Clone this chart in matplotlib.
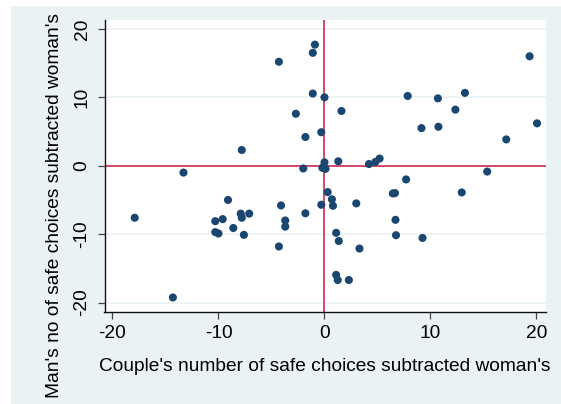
import matplotlib
matplotlib.use("Agg")
import matplotlib.pyplot as plt
from matplotlib.patches import Rectangle

plt.rcParams["font.family"] = ["Liberation Sans", "DejaVu Sans"]
plt.rcParams["axes.unicode_minus"] = False

# Couple's minus woman's (x) vs man's minus woman's (y), number of safe choices
x_vals = [-17.9, -14.3, -13.3, -10.3, -9.6, -10.3, -10.0, -9.1, -8.6, -7.8,
          -7.9, -7.8, -7.1, -7.6, -4.3, -4.1, -3.7, -3.7, -4.3, -2.7,
          -1.8, -2.0, -1.8, -0.9, -1.1, -1.1, 0.0, -0.3, 0.0, -0.2,
          0.1, -0.3, 0.3, 0.7, 0.8, 1.3, 1.6, 1.1, 1.35, 1.1,
          1.25, 2.3, 3.0, 3.3, 4.2, 4.8, 5.2, 6.45, 6.65, 6.7,
          6.75, 7.7, 7.85, 9.15, 9.25, 10.7, 10.75, 12.35, 12.95, 13.25,
          15.35, 17.15, 19.35, 20.05]
y_vals = [-7.6, -19.25, -1.0, -8.1, -7.8, -9.7, -9.9, -5.0, -9.1, 2.3,
          -7.0, -7.6, -7.0, -10.1, 15.2, -5.8, -8.0, -8.9, -11.8, 7.6,
          4.2, -0.4, -6.95, 17.7, 16.5, 10.55, 10.0, 4.9, 0.5, -0.3,
          -0.45, -5.7, -3.85, -4.9, -5.85, 0.65, 8.0, -9.8, -11.0, -15.95,
          -16.7, -16.7, -5.5, -12.1, 0.25, 0.55, 1.05, -4.05, -4.0, -7.9,
          -10.15, -2.0, 10.2, 5.5, -10.55, 9.85, 5.7, 8.2, -3.9, 10.65,
          -0.85, 3.85, 16.0, 6.2]
x_ticks = [-20, -10, 0, 10, 20]
y_ticks = [-20, -10, 0, 10, 20]

bg = "#EAF2F3"
navy = "#1A476F"
red = "#D6466B"
W, H = 561, 404

fig = plt.figure(figsize=(W / 100, H / 100), dpi=100)
fig.patch.set_facecolor("white")
fig.patches.append(Rectangle((10.7 / W, 0), 1, 1 - 5.5 / H,
                             transform=fig.transFigure, facecolor=bg,
                             edgecolor="none", zorder=-10))

ax = fig.add_axes([104.5 / W, 1 - 311.5 / H, 441 / W, 291.5 / H])
ax.set_facecolor("white")
ax.set_xlim(-20.75, 20.85)
ax.set_ylim(-21.3, 21.3)

for yt in y_ticks:
    ax.axhline(yt, color=bg, linewidth=1.2, zorder=1)
ax.axhline(0, color=red, linewidth=1.4, zorder=2)
ax.axvline(0, color=red, linewidth=1.4, zorder=2)

ax.scatter(x_vals, y_vals, s=34, color=navy, edgecolors="none", zorder=3)

ax.set_xticks(x_ticks)
ax.set_yticks(y_ticks)
ax.set_yticklabels([str(t) for t in y_ticks], rotation=90, va="center")
ax.tick_params(direction="out", length=5, width=0.9, color="#444444",
               labelsize=13.8, labelcolor="black")
ax.tick_params(axis="x", pad=5)
ax.tick_params(axis="y", pad=5)
for side in ("top", "right"):
    ax.spines[side].set_visible(False)
for side in ("left", "bottom"):
    ax.spines[side].set_color("#111111")
    ax.spines[side].set_linewidth(1.0)

ax.set_xlabel("Couple's number of safe choices subtracted woman's",
              fontsize=13.8, labelpad=11)
fig.text(54.5 / W, 1 - 205 / H, "Man's no of safe choices subtracted woman's",
         fontsize=13.8, rotation=90, ha="center", va="center")

fig.savefig("out.png", dpi=100)
